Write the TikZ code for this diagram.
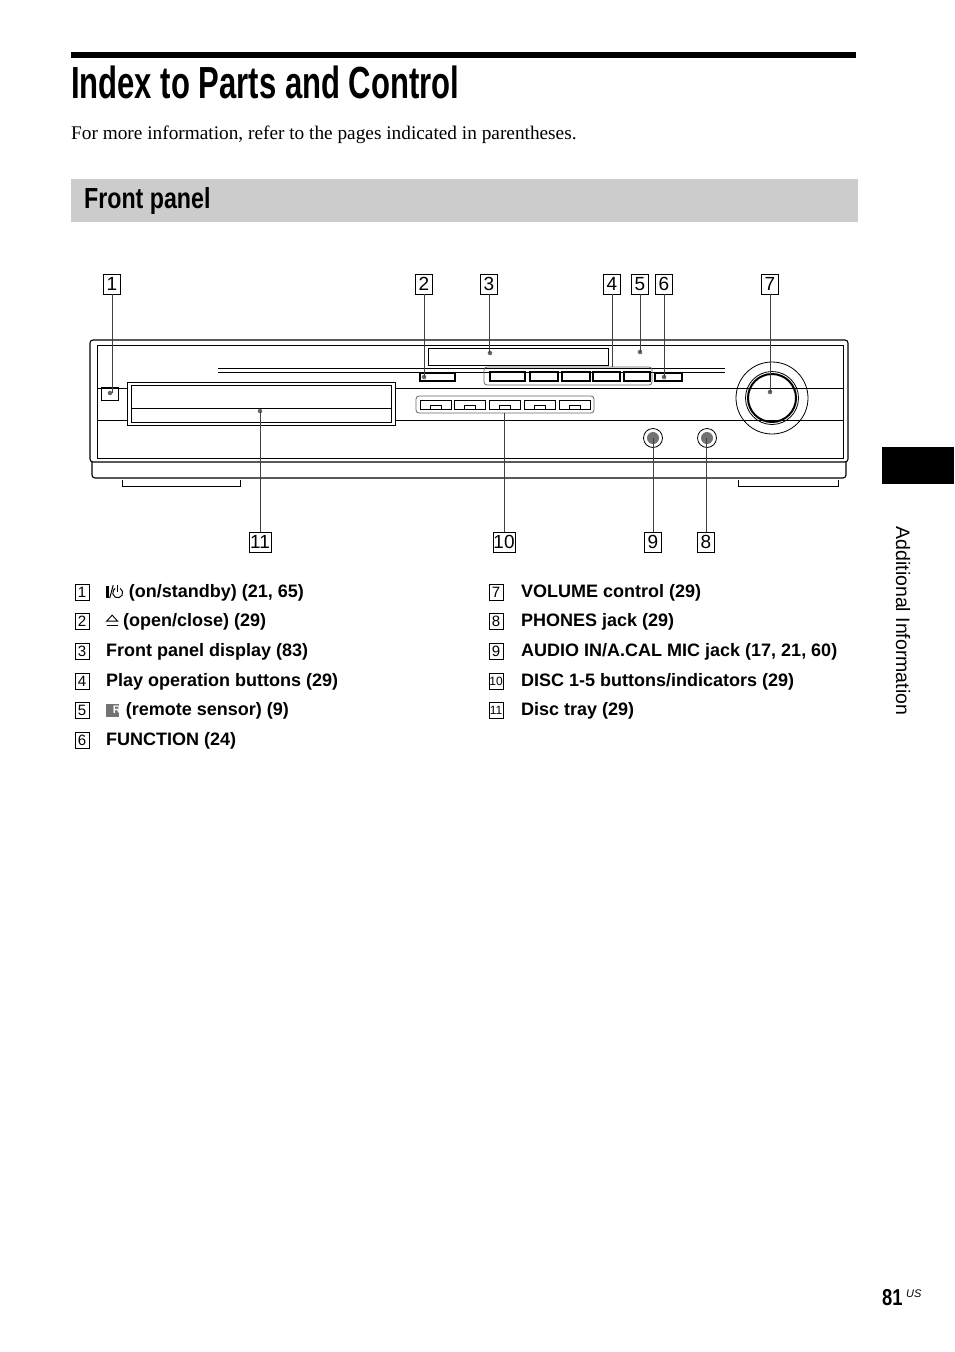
\documentclass[tikz,border=0pt]{standalone}
\usepackage{fontspec}
\setmainfont{Liberation Serif}
\setsansfont{Liberation Sans}
\newcommand{\onsym}{\tikz[baseline=0pt,line width=1pt]{\fill (0.5pt,0pt) rectangle (3pt,12pt); \draw (4pt,-0.5pt) -- (7.5pt,12.5pt); \draw (14.5pt,9.2pt) arc (60:-240:5pt); \draw (12pt,5.5pt) -- (12pt,12.5pt);}}
\newcommand{\ejectsym}{\tikz[baseline=0pt,line width=0.9pt]{\draw (0.5pt,5.5pt) -- (6pt,11.5pt) -- (11.5pt,5.5pt) -- cycle; \draw (0.5pt,1pt) -- (11.5pt,1pt);}}
\newcommand{\rsym}{\tikz[baseline=0pt]{\fill[black!55] (0,-1pt) rectangle (13pt,12pt); \node[white,font=\sffamily\bfseries\fontsize{11}{11}\selectfont,inner sep=0] at (6.5pt,5.5pt) {R};}}
\begin{document}
\begin{tikzpicture}
[
x=1pt, y=-1pt,
numbox/.style={draw=black, line width=0.7pt, inner sep=0pt, minimum width=17pt, minimum height=20pt, font=\sffamily\fontsize{19}{19}\selectfont},
smallbox/.style={draw=black, line width=0.7pt, inner sep=0pt, minimum width=14pt, minimum height=16pt, font=\sffamily\fontsize{15}{15}\selectfont},
item/.style={anchor=west, inner sep=0pt, font=\sffamily\bfseries\fontsize{18}{18}\selectfont},
body/.style={line width=1.1pt},
part/.style={line width=0.8pt},
leader/.style={line width=0.9pt, black!75},
pin/.style={circle, fill=black!60, inner sep=1.6pt}
]
\useasboundingbox (0,0) rectangle (954,1352);
\fill[white] (0,0) rectangle (954,1352);

%Heading
\fill (71,52) rectangle (856,58);
\node[anchor=west, inner sep=0, xscale=0.69, font=\sffamily\bfseries\fontsize{45}{45}\selectfont] (title) at (71,82) {Index to Parts and Control};
\node[anchor=west, inner sep=0, font=\rmfamily\fontsize{19.3}{19.3}\selectfont] (intro) at (71,135) {For more information, refer to the pages indicated in parentheses.};
\fill[black!20] (71,179) rectangle (858,222);
\node[anchor=west, inner sep=0, xscale=0.8, font=\sffamily\bfseries\fontsize{29}{29}\selectfont] (front) at (84,201) {Front panel};

%Side tab
\fill (882,447) rectangle (954,484);
\node[rotate=-90, inner sep=0, font=\sffamily\fontsize{19.5}{19.5}\selectfont] (side) at (903,621) {Additional Information};
\node[anchor=base west, inner sep=0, xscale=0.8, font=\sffamily\bfseries\fontsize{23}{23}\selectfont] (page) at (882,1305) {81};
\node[anchor=base west, inner sep=0, font=\sffamily\itshape\fontsize{11}{11}\selectfont] (us) at (906,1297) {US};

%Body of the unit
\draw[body, rounded corners=3pt] (90,340) rectangle (848,462);
\draw[body, rounded corners=3pt] (92,462) -- (92,478) -- (846,478) -- (846,462);
\draw[part] (122,480) -- (122,486) -- (240,486) -- (240,480);
\draw[part] (738,480) -- (738,486) -- (838,486) -- (838,480);
\draw[part] (97,345) -- (843,345);
\draw[part] (97,345) -- (97,420) -- (843,420) -- (843,345);
\draw[part] (97,420) rectangle (843,458);
\draw[part] (97,388) -- (127,388);
\draw[part] (395,388) -- (843,388);
\draw[part] (218,368) -- (725,368);
\draw[part] (218,372) -- (725,372);
\draw[part] (101,387) rectangle (118,400);

%Parts
\draw[part, fill=white] (127,382) rectangle (395,425);
\draw[part] (131,385) rectangle (391,422);
\draw[part] (131,408) -- (391,408);
\draw[part] (428,348) rectangle (608,365);
\draw[line width=1.4pt, fill=white] (420,373) rectangle (455,381);
\draw[part, rounded corners=3pt, black!60] (484,367) rectangle (652,385);
\foreach \a/\b in {490/525, 530/558, 562/590, 593/620, 624/650}
  \draw[line width=1.3pt, fill=white] (\a,372) rectangle (\b,381);
\draw[line width=1.3pt, fill=white] (655,373) rectangle (682,381);
\draw[part, rounded corners=3pt, black!60] (416,396) rectangle (594,413);
\foreach \a in {420,454,489,524,559}
  {\draw[part] (\a,400) rectangle ({\a+31},409);
   \draw[part] ({\a+10},409) -- ({\a+10},405) -- ({\a+21},405) -- ({\a+21},409);}
\draw[part] (772,398) circle (36);
\draw[line width=2pt] (772,398) circle (24);
\draw[part] (772,398) circle (26.5);
\draw[part] (653,438) circle (9.5);
\fill[black!55] (653,438) circle (6);
\draw[part] (707,438) circle (9.5);
\fill[black!55] (707,438) circle (6);

%Points
\coordinate[pin] (p1) at (110,393);
\coordinate[pin] (p2) at (424,377);
\coordinate[pin] (p3) at (490,353);
\coordinate (p4) at (612,367);
\coordinate[pin] (p5) at (640,352);
\coordinate[pin] (p6) at (664,377);
\coordinate[pin] (p7) at (770,392);
\coordinate (p8) at (707,438);
\coordinate (p9) at (653,438);
\coordinate (p10) at (505,413);
\coordinate[pin] (p11) at (260,411);

%Labels
\node[numbox] (n1) at (112,284) {1};
\node[numbox] (n2) at (424,284) {2};
\node[numbox] (n3) at (489,284) {3};
\node[numbox] (n4) at (612,284) {4};
\node[numbox] (n5) at (640,284) {5};
\node[numbox] (n6) at (664,284) {6};
\node[numbox] (n7) at (770,284) {7};
\node[numbox] (n8) at (706,542) {8};
\node[numbox] (n9) at (653,542) {9};
\node[numbox, minimum width=22pt] (n10) at (504,542) {10};
\node[numbox, minimum width=22pt] (n11) at (260,542) {11};
\foreach \i in {1,...,7}
  \draw[leader] (n\i.south) -- (n\i.south |- p\i);
\foreach \i in {8,...,11}
  \draw[leader] (n\i.north) -- (n\i.north |- p\i);

%List
\node[smallbox] (l1) at (82,592) {1};
\node[smallbox] (l2) at (82,621) {2};
\node[smallbox] (l3) at (82,651) {3};
\node[smallbox] (l4) at (82,681) {4};
\node[smallbox] (l5) at (82,710) {5};
\node[smallbox] (l6) at (82,740) {6};
\node[smallbox] (l7) at (496,592) {7};
\node[smallbox] (l8) at (496,621) {8};
\node[smallbox] (l9) at (496,651) {9};
\node[smallbox, font=\sffamily\fontsize{12}{12}\selectfont] (l10) at (496,681) {10};
\node[smallbox, font=\sffamily\fontsize{12}{12}\selectfont] (l11) at (496,710) {11};
\node[item] (t1) at (106,593) {\onsym{} (on/standby) (21, 65)};
\node[item] (t2) at (106,622) {\ejectsym{} (open/close) (29)};
\node[item] (t3) at (106,652) {Front panel display (83)};
\node[item] (t4) at (106,682) {Play operation buttons (29)};
\node[item] (t5) at (106,711) {\rsym{} (remote sensor) (9)};
\node[item] (t6) at (106,741) {FUNCTION (24)};
\node[item] (t7) at (521,593) {VOLUME control (29)};
\node[item] (t8) at (521,622) {PHONES jack (29)};
\node[item] (t9) at (521,652) {AUDIO IN/A.CAL MIC jack (17, 21, 60)};
\node[item] (t10) at (521,682) {DISC 1-5 buttons/indicators (29)};
\node[item] (t11) at (521,711) {Disc tray (29)};
\end{tikzpicture}
\end{document}
